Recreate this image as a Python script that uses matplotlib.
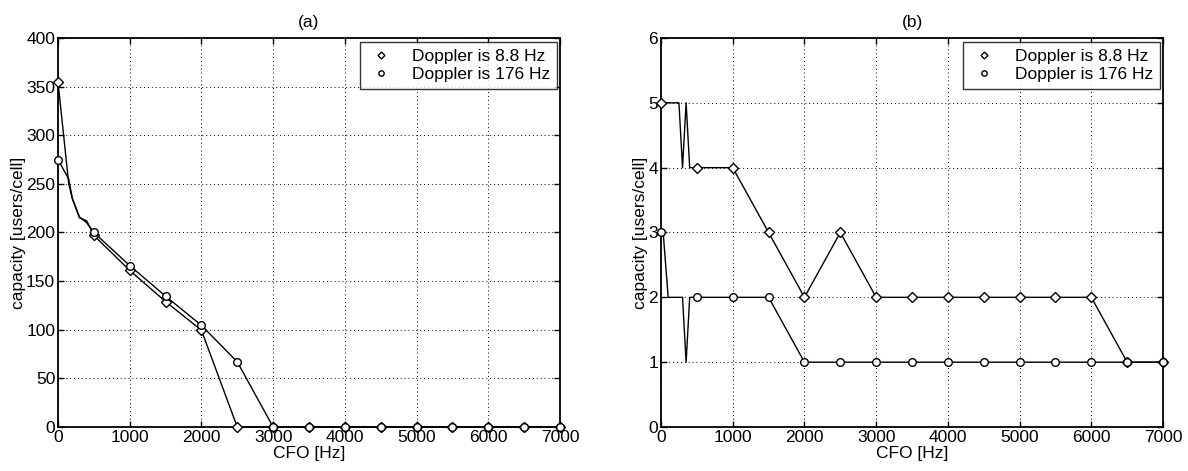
import matplotlib as mpl
import matplotlib.pyplot as plt
import numpy as np

# panel (a): capacity vs CFO, fine steps below 500 Hz, markers every 500 Hz
cfo_a = [0, 150, 200, 300, 400, 500, 1000, 1500, 2000, 2500, 3000, 3500,
         4000, 4500, 5000, 5500, 6000, 6500, 7000]
cap_a_slow = [355, 250, 235, 215, 212, 197, 161, 129, 99.5, 0, 0, 0,
              0, 0, 0, 0, 0, 0, 0]
cap_a_fast = [275, 255, 235, 216, 210, 200, 166, 134.5, 104.5, 67, 0, 0,
              0, 0, 0, 0, 0, 0, 0]

# panel (b)
cfo_b_slow = [0, 250, 300, 350, 400, 500, 1000, 1500, 2000, 2500, 3000, 3500,
              4000, 4500, 5000, 5500, 6000, 6500, 7000]
cap_b_slow = [5, 5, 4, 5, 4, 4, 4, 3, 2, 3, 2, 2, 2, 2, 2, 2, 2, 1, 1]
cfo_b_fast = [0, 30, 100, 300, 350, 400, 500, 1000, 1500, 2000, 2500, 3000,
              3500, 4000, 4500, 5000, 5500, 6000, 6500, 7000]
cap_b_fast = [3, 3, 2, 2, 1, 2, 2, 2, 2, 1, 1, 1, 1, 1, 1, 1, 1, 1, 1, 1]

xticks = [0, 1000, 2000, 3000, 4000, 5000, 6000, 7000]
labels = ["Doppler is 8.8 Hz", "Doppler is 176 Hz"]

mpl.rcParams.update({
    "font.family": ["Liberation Sans", "DejaVu Sans"],
    "font.size": 12.5,
    "xtick.direction": "in",
    "ytick.direction": "in",
    "xtick.major.size": 4,
    "ytick.major.size": 4,
})


def marker_idx(x):
    return [i for i, v in enumerate(x) if v % 500 == 0]


def draw(ax, x1, y1, x2, y2, ymax, yticks, title):
    ax.plot(x1, y1, color="black", lw=1.0, marker="D", ms=5, mfc="white",
            mec="black", mew=1.0, markevery=marker_idx(x1), label=labels[0],
            clip_on=False, zorder=3)
    ax.plot(x2, y2, color="black", lw=1.0, marker="o", ms=5.5, mfc="white",
            mec="black", mew=1.0, markevery=marker_idx(x2), label=labels[1],
            clip_on=False, zorder=3)
    ax.set_xlim(0, 7000)
    ax.set_ylim(0, ymax)
    ax.set_xticks(xticks)
    ax.set_yticks(yticks)
    ax.grid(True, color="black", ls=(0, (1, 3)), lw=0.7)
    ax.tick_params(top=True, right=True, labeltop=False, labelright=False,
                   pad=2, width=1.0)
    for s in ax.spines.values():
        s.set_linewidth(1.3)
    ax.set_xlabel("CFO [Hz]", labelpad=1)
    ax.set_ylabel("capacity [users/cell]", labelpad=0)
    ax.set_title(title, fontsize=12.5, pad=8)
    leg = ax.legend(loc="upper right", bbox_to_anchor=(0.994, 0.99),
                    borderaxespad=0.0,
                    frameon=True, fancybox=False, edgecolor="black",
                    handlelength=1.6, handletextpad=1.0, borderpad=0.4,
                    labelspacing=0.15, fontsize=12.5, markerscale=0.7)
    leg.get_frame().set_linewidth(1.0)
    for h in leg.get_lines():
        h.set_linestyle("none")


fig = plt.figure(figsize=(11.88, 4.71), dpi=100)
ax_a = fig.add_axes([0.0488, 0.0934, 0.4226, 0.826])
ax_b = fig.add_axes([0.5564, 0.0934, 0.4226, 0.826])

draw(ax_a, cfo_a, cap_a_slow, cfo_a, cap_a_fast, 400,
     [0, 50, 100, 150, 200, 250, 300, 350, 400], "(a)")
draw(ax_b, cfo_b_slow, cap_b_slow, cfo_b_fast, cap_b_fast, 6,
     [0, 1, 2, 3, 4, 5, 6], "(b)")

fig.savefig("out.png", dpi=100)
